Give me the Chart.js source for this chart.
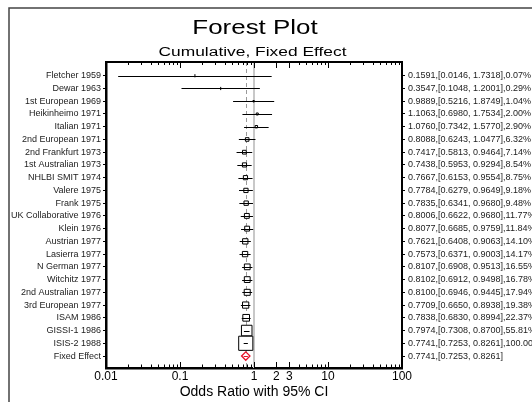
<!DOCTYPE html>
<html>
<head>
<meta charset="utf-8">
<title>Forest Plot</title>
<script src="https://cdn.jsdelivr.net/npm/chart.js@4.4.1/dist/chart.umd.min.js"></script>
<style>
  html, body { margin: 0; padding: 0; background: #fff; }
  #wrap { width: 532px; height: 402px; }
</style>
</head>
<body>
<div id="wrap"><canvas id="forestChart" width="532" height="402"></canvas></div>
<script>
// ===========================
// DATA
// ===========================
const studies = [
  'Fletcher 1959', 'Dewar 1963', '1st European 1969', 'Heikinheimo 1971',
  'Italian 1971', '2nd European 1971', '2nd Frankfurt 1973', '1st Australian 1973',
  'NHLBI SMIT 1974', 'Valere 1975', 'Frank 1975', 'UK Collaborative 1976',
  'Klein 1976', 'Austrian 1977', 'Lasierra 1977', 'N German 1977',
  'Witchitz 1977', '2nd Australian 1977', '3rd European 1977', 'ISAM 1986',
  'GISSI-1 1986', 'ISIS-2 1988', 'Fixed Effect'
];
const oddsRatio = [
  0.1591, 0.3547, 0.9889, 1.1063, 1.0760, 0.8088, 0.7417, 0.7438,
  0.7667, 0.7784, 0.7835, 0.8006, 0.8077, 0.7621, 0.7573, 0.8107,
  0.8102, 0.8100, 0.7709, 0.7838, 0.7974, 0.7741, 0.7741
];
const ciLow = [
  0.0146, 0.1048, 0.5216, 0.6980, 0.7342, 0.6243, 0.5813, 0.5953,
  0.6153, 0.6279, 0.6341, 0.6622, 0.6685, 0.6408, 0.6371, 0.6908,
  0.6912, 0.6946, 0.6650, 0.6830, 0.7308, 0.7253, 0.7253
];
const ciHigh = [
  1.7318, 1.2001, 1.8749, 1.7534, 1.5770, 1.0477, 0.9464, 0.9294,
  0.9554, 0.9649, 0.9680, 0.9680, 0.9759, 0.9063, 0.9003, 0.9513,
  0.9498, 0.9445, 0.8938, 0.8994, 0.8700, 0.8261, 0.8261
];
// % weight; the pooled row has none
const weights = [
  0.07, 0.29, 1.04, 2.00, 2.90, 6.32, 7.14, 8.54,
  8.75, 9.18, 9.48, 11.77, 11.84, 14.10, 14.17, 16.55,
  16.78, 17.94, 19.38, 22.37, 55.81, 100.00, null
];
const xTicks = [0.01, 0.1, 1, 2, 3, 10, 100];

const FONT = '"Liberation Sans", Arial, sans-serif';
const pooled = studies.length - 1;

const rightLabels = oddsRatio.map((v, i) => {
  let s = `${v.toFixed(4)},[${ciLow[i].toFixed(4)}, ${ciHigh[i].toFixed(4)}]`;
  if (weights[i] !== null) s += `,${weights[i].toFixed(2)}%`;
  return s;
});

// ===========================
// PLUGINS
// ===========================
const frameAndTitles = {
  id: 'frameAndTitles',
  beforeDraw(chart) {
    const ctx = chart.ctx;
    ctx.save();
    ctx.strokeStyle = '#444';
    ctx.lineWidth = 1.5;
    ctx.beginPath();
    ctx.moveTo(9, 410);
    ctx.lineTo(9, 8);
    ctx.lineTo(540, 8);
    ctx.stroke();
    ctx.restore();
  },
  afterDraw(chart) {
    const ctx = chart.ctx;
    const cx = (chart.chartArea.left + chart.chartArea.right) / 2;
    const txt = (text, x, y, size, sx) => {
      ctx.save();
      ctx.font = `${size}px ${FONT}`;
      ctx.fillStyle = '#000';
      ctx.textAlign = 'center';
      ctx.textBaseline = 'alphabetic';
      ctx.translate(x, y);
      ctx.scale(sx, 1);
      ctx.fillText(text, 0, 0);
      ctx.restore();
    };
    txt('Forest Plot', cx + 1, 34, 19.5, 1.33);
    txt('Cumulative, Fixed Effect', cx - 1.5, 55.5, 12.5, 1.39);
  }
};

const refLines = {
  id: 'refLines',
  beforeDatasetsDraw(chart) {
    const { ctx, chartArea: a, scales: { x } } = chart;
    ctx.save();
    // line of no effect
    const p1 = x.getPixelForValue(1);
    ctx.strokeStyle = '#c8c8c8';
    ctx.lineWidth = 2;
    ctx.beginPath(); ctx.moveTo(p1, a.top); ctx.lineTo(p1, a.bottom); ctx.stroke();
    // pooled estimate
    const pp = Math.round(x.getPixelForValue(oddsRatio[pooled])) + 0.5;
    ctx.strokeStyle = '#9a9a9a';
    ctx.lineWidth = 1;
    ctx.setLineDash([4, 3]);
    ctx.beginPath(); ctx.moveTo(pp, a.top); ctx.lineTo(pp, a.bottom); ctx.stroke();
    ctx.setLineDash([]);
    ctx.restore();
  },
  afterDatasetsDraw(chart) {
    const { ctx, chartArea: a, scales: { x, y } } = chart;
    ctx.save();
    // confidence intervals, on top of the boxes
    ctx.lineWidth = 1;
    ciLow.forEach((lo, i) => {
      const py = Math.round(y.getPixelForValue(i)) + 0.5;
      ctx.strokeStyle = i === pooled ? '#e8102a' : '#000';
      ctx.beginPath();
      ctx.moveTo(x.getPixelForValue(lo), py);
      ctx.lineTo(x.getPixelForValue(ciHigh[i]), py);
      ctx.stroke();
    });

    // top border plus inside log ticks on top and bottom
    ctx.strokeStyle = '#000';
    ctx.lineWidth = 2;
    ctx.beginPath(); ctx.moveTo(a.left, a.top); ctx.lineTo(a.right, a.top); ctx.stroke();
    ctx.lineWidth = 1;
    for (let k = -2; k < 2; k++) {
      for (let m = 1; m < 10; m++) {
        const v = m * Math.pow(10, k);
        const major = m === 1 || xTicks.includes(v);
        const px = Math.round(x.getPixelForValue(v)) + 0.5;
        const lenTop = major ? 6 : 3;
        const lenBot = major ? 6 : 3.5;
        ctx.beginPath();
        ctx.moveTo(px, a.top); ctx.lineTo(px, a.top + lenTop);
        ctx.moveTo(px, a.bottom); ctx.lineTo(px, a.bottom - lenBot);
        ctx.stroke();
      }
    }
    ctx.restore();
  }
};

// ===========================
// CHART
// ===========================
const rowAxis = (position, labels, width) => ({
  type: 'linear',
  position,
  min: -1.08,
  max: studies.length - 1 + 0.94,
  reverse: true,
  afterBuildTicks: scale => { scale.ticks = labels.map((_, i) => ({ value: i })); },
  afterFit: scale => { scale.width = width; },
  ticks: {
    autoSkip: false,
    padding: position === 'left' ? 2 : 3,
    color: '#222',
    font: { family: FONT, size: 9 },
    callback: v => labels[v]
  },
  grid: { drawOnChartArea: false, drawTicks: true, tickLength: 3, color: '#000' },
  border: { display: true, color: '#000', width: position === 'left' ? 2.5 : 2 }
});

new Chart(document.getElementById('forestChart'), {
  type: 'scatter',
  data: {
    datasets: [
      {
        label: 'Studies',
        data: studies.slice(0, pooled).map((_, i) => ({ x: oddsRatio[i], y: i })),
        pointStyle: c => weights[c.dataIndex] < 0.5 ? 'line' : 'rect',
        rotation: c => weights[c.dataIndex] < 0.5 ? 90 : 0,
        pointRadius: c => weights[c.dataIndex] < 0.5 ? 1.6 : Math.sqrt(weights[c.dataIndex]),
        borderColor: '#000',
        backgroundColor: '#fff',
        borderWidth: 1
      },
      {
        label: 'Fixed Effect',
        data: [{ x: oddsRatio[pooled], y: pooled }],
        pointStyle: 'rectRot',
        pointRadius: 4.2,
        borderColor: '#e8102a',
        backgroundColor: '#fff',
        borderWidth: 1.3
      }
    ]
  },
  options: {
    responsive: false,
    animation: false,
    devicePixelRatio: 1,
    layout: { padding: { top: 62, left: 0, right: 0, bottom: 0 } },
    plugins: { legend: { display: false }, tooltip: { enabled: false } },
    scales: {
      x: {
        type: 'logarithmic',
        position: 'bottom',
        min: 0.01,
        max: 100,
        afterBuildTicks: scale => { scale.ticks = xTicks.map(v => ({ value: v })); },
        afterFit: scale => { scale.height = 34; },
        ticks: {
          autoSkip: false,
          maxRotation: 0,
          padding: 1,
          color: '#000',
          font: { family: FONT, size: 12 },
          callback: v => String(v)
        },
        grid: { display: false, drawTicks: false },
        border: { display: true, color: '#000', width: 2.5 },
        title: {
          display: true,
          text: 'Odds Ratio with 95% CI',
          color: '#000',
          font: { family: FONT, size: 14 },
          padding: { top: 0, bottom: 1 }
        }
      },
      y: rowAxis('left', studies, 106),
      yRight: rowAxis('right', rightLabels, 130)
    }
  },
  plugins: [frameAndTitles, refLines]
});
</script>
</body>
</html>
